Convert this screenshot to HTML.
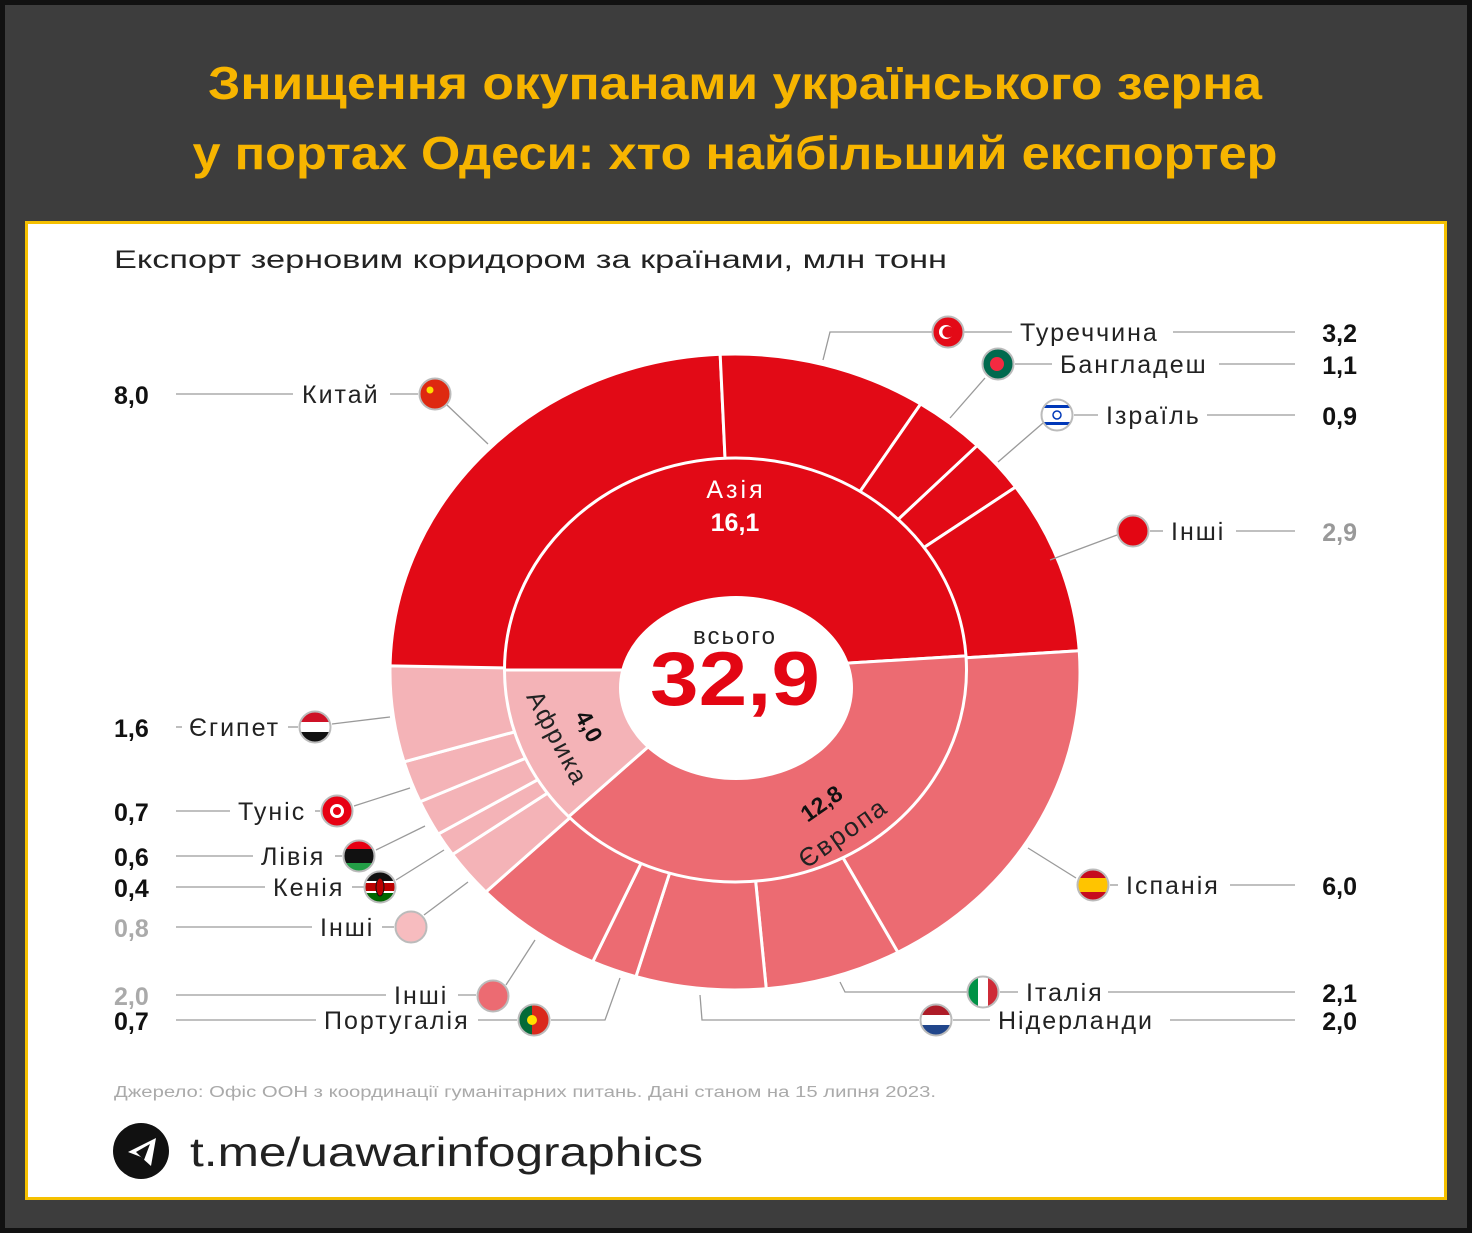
<!DOCTYPE html>
<html><head><meta charset="utf-8"><style>
html,body{margin:0;padding:0;background:#3c3c3c;}
svg{display:block}
text{font-family:"Liberation Sans",sans-serif;}
</style></head><body>
<svg id="s" width="1472" height="1233" viewBox="0 0 1472 1233" xmlns="http://www.w3.org/2000/svg">
<defs><clipPath id="fc"><circle cx="0" cy="0" r="15"/></clipPath></defs>
<rect x="0" y="0" width="1472" height="1233" fill="#111"/>
<rect x="5" y="5" width="1462" height="1223" fill="#3d3d3d"/>
<text x="735" y="99" text-anchor="middle" font-size="46" font-weight="bold" fill="#f7b500" textLength="1054" lengthAdjust="spacingAndGlyphs">Знищення окупанами українського зерна</text>
<text x="735" y="169" text-anchor="middle" font-size="46" font-weight="bold" fill="#f7b500" textLength="1085" lengthAdjust="spacingAndGlyphs">у портах Одеси: хто найбільший експортер</text>
<rect x="26.5" y="222.5" width="1419" height="976" fill="#fff" stroke="#f5c000" stroke-width="3"/>
<text x="114" y="268" font-size="25" fill="#222" textLength="833" lengthAdjust="spacingAndGlyphs">Експорт зерновим коридором за країнами, млн тонн</text>
<g id="donut"></g>
<g id="lines" stroke="#9a9a9a" stroke-width="1.3" fill="none">
<polyline points="823,360 830,332 932,332"/><polyline points="964,332 1012,332"/><polyline points="1173,332 1295,332"/>
<polyline points="950,418 985,378"/><polyline points="1015,364 1052,364"/><polyline points="1219,364 1295,364"/>
<polyline points="998,462 1043,423"/><polyline points="1074,415 1098,415"/><polyline points="1207,415 1295,415"/>
<polyline points="1050,560 1117,535"/><polyline points="1150,531 1163,531"/><polyline points="1236,531 1295,531"/>
<polyline points="176,394 293,394"/><polyline points="390,394 418,394"/><polyline points="447,405 488,444"/>
<polyline points="176,727 182,727"/><polyline points="288,727 298,727"/><polyline points="332,724 390,717"/>
<polyline points="176,811 230,811"/><polyline points="315,811 320,811"/><polyline points="354,806 410,788"/>
<polyline points="176,856 253,856"/><polyline points="335,856 342,856"/><polyline points="376,850 425,826"/>
<polyline points="176,887 265,887"/><polyline points="352,887 364,887"/><polyline points="396,880 444,850"/>
<polyline points="176,927 312,927"/><polyline points="382,927 394,927"/><polyline points="424,915 468,882"/>
<polyline points="176,995 386,995"/><polyline points="458,995 476,995"/><polyline points="506,985 535,940"/>
<polyline points="176,1020 316,1020"/><polyline points="478,1020 517,1020"/><polyline points="551,1020 605,1020 620,978"/>
<polyline points="1028,848 1076,878"/><polyline points="1110,885 1118,885"/><polyline points="1230,885 1295,885"/>
<polyline points="840,982 845,992 967,992"/><polyline points="1000,992 1018,992"/><polyline points="1108,992 1295,992"/>
<polyline points="700,995 702,1020 919,1020"/><polyline points="953,1020 990,1020"/><polyline points="1170,1020 1295,1020"/>
</g>
<g id="flags"></g>
<text x="735" y="644" text-anchor="middle" font-size="24" letter-spacing="2" fill="#222">всього</text>
<text x="735" y="705" text-anchor="middle" font-size="76" font-weight="bold" fill="#e30613" textLength="170" lengthAdjust="spacingAndGlyphs">32,9</text>
<text x="736" y="498" text-anchor="middle" font-size="25" letter-spacing="3" fill="#fff">Азія</text>
<text x="735" y="531" text-anchor="middle" font-size="25" font-weight="bold" fill="#fff">16,1</text>
<text transform="translate(550,742) rotate(62)" text-anchor="middle" font-size="25" letter-spacing="2" fill="#222">Африка</text>
<text transform="translate(582,730) rotate(62)" text-anchor="middle" font-size="23" font-weight="bold" fill="#111">4,0</text>
<text transform="translate(826,810) rotate(-35)" text-anchor="middle" font-size="23" font-weight="bold" fill="#111">12,8</text>
<text transform="translate(848,840) rotate(-35)" text-anchor="middle" font-size="26" letter-spacing="2" fill="#222">Європа</text>
<g font-size="25" letter-spacing="2" fill="#222">
<text x="1020" y="341">Туреччина</text>
<text x="1060" y="373">Бангладеш</text>
<text x="1106" y="424">Ізраїль</text>
<text x="1171" y="540">Інші</text>
<text x="302" y="403">Китай</text>
<text x="189" y="736">Єгипет</text>
<text x="238" y="820">Туніс</text>
<text x="261" y="865">Лівія</text>
<text x="273" y="896">Кенія</text>
<text x="320" y="936">Інші</text>
<text x="394" y="1004">Інші</text>
<text x="324" y="1029">Португалія</text>
<text x="1126" y="894">Іспанія</text>
<text x="1026" y="1001">Італія</text>
<text x="998" y="1029">Нідерланди</text>
</g>
<g font-size="25" font-weight="bold" fill="#111">
<text x="1357" y="342" text-anchor="end">3,2</text>
<text x="1357" y="374" text-anchor="end">1,1</text>
<text x="1357" y="425" text-anchor="end">0,9</text>
<text x="1357" y="541" text-anchor="end" fill="#999">2,9</text>
<text x="1357" y="895" text-anchor="end">6,0</text>
<text x="1357" y="1002" text-anchor="end">2,1</text>
<text x="1357" y="1030" text-anchor="end">2,0</text>
<text x="114" y="404">8,0</text>
<text x="114" y="737">1,6</text>
<text x="114" y="821">0,7</text>
<text x="114" y="866">0,6</text>
<text x="114" y="897">0,4</text>
<text x="114" y="937" fill="#aaa">0,8</text>
<text x="114" y="1005" fill="#aaa">2,0</text>
<text x="114" y="1030">0,7</text>
</g>
<text x="114" y="1097" font-size="15.5" fill="#aaa" textLength="822" lengthAdjust="spacingAndGlyphs">Джерело: Офіс ООН з координації гуманітарних питань. Дані станом на 15 липня 2023.</text>
<circle cx="141" cy="1151" r="28" fill="#111"/>
<path d="M128,1152 L156,1138 L151,1166 L141,1157 Z" fill="#fff"/>
<path d="M136,1152 L150,1144 L144,1160 Z" fill="#111"/>
<text x="190" y="1166" font-size="41" fill="#222" textLength="513" lengthAdjust="spacingAndGlyphs">t.me/uawarinfographics</text>
</svg>
<script>
var NS="http://www.w3.org/2000/svg";
function el(t,a,p){var e=document.createElementNS(NS,t);for(var k in a)e.setAttribute(k,a[k]);p.appendChild(e);return e;}
var d=document.getElementById('donut');
function sector(cx,cy,rx,ry,a0,a1,fill,p){
 var r=Math.PI/180,x0=cx+rx*Math.cos(a0*r),y0=cy+ry*Math.sin(a0*r),x1=cx+rx*Math.cos(a1*r),y1=cy+ry*Math.sin(a1*r);
 var large=(a1-a0)>180?1:0;
 el('path',{d:'M'+cx+','+cy+' L'+x0+','+y0+' A'+rx+','+ry+' 0 '+large+' 1 '+x1+','+y1+' Z',fill:fill,stroke:'#fff','stroke-width':3,'stroke-linejoin':'round'},p);
}
var T=32.9,A='#e20a16',E='#ec6b72',F='#f4b3b7';
var outer=[[8.0,A],[3.2,A],[1.1,A],[0.9,A],[2.9,A],[6.0,E],[2.1,E],[2.0,E],[0.7,E],[2.0,E],[0.8,F],[0.4,F],[0.6,F],[0.7,F],[1.6,F]];
var a=180;
outer.forEach(function(o){var b=a+o[0]/T*360;sector(735,672,345,318,a,b,o[1],d);a=b;});
var mid=[[16.1,A],[12.8,E],[4.0,F]];a=180;
mid.forEach(function(o){var b=a+o[0]/T*360;sector(735.5,670,231,212,a,b,o[1],d);a=b;});
el('ellipse',{cx:736,cy:688,rx:117,ry:92,fill:'#fff'},d);
var fl=document.getElementById('flags');
function flag(x,y,kind){
 var g=el('g',{transform:'translate('+x+','+y+')'},fl);
 var c=el('g',{'clip-path':'url(#fc)'},g);
 function R(x,y,w,h,f){el('rect',{x:x,y:y,width:w,height:h,fill:f},c);}
 if(kind=='cn'){R(-15,-15,30,30,'#de2910');el('circle',{cx:-5,cy:-4,r:3.5,fill:'#ffde00'},c);}
 else if(kind=='tr'){R(-15,-15,30,30,'#e30a17');el('circle',{cx:-2,cy:0,r:7,fill:'#fff'},c);el('circle',{cx:0,cy:0,r:5.6,fill:'#e30a17'},c);}
 else if(kind=='bd'){R(-15,-15,30,30,'#006a4e');el('circle',{cx:-1,cy:0,r:7,fill:'#f42a41'},c);}
 else if(kind=='il'){R(-15,-15,30,30,'#fff');R(-15,-10,30,3,'#0038b8');R(-15,7,30,3,'#0038b8');el('circle',{cx:0,cy:0,r:4,fill:'none',stroke:'#0038b8','stroke-width':1.5},c);}
 else if(kind=='eg'){R(-15,-15,30,10,'#ce1126');R(-15,-5,30,10,'#fff');R(-15,5,30,10,'#111');}
 else if(kind=='tn'){R(-15,-15,30,30,'#e70013');el('circle',{cx:0,cy:0,r:7,fill:'#fff'},c);el('circle',{cx:0,cy:0,r:4,fill:'#e70013'},c);}
 else if(kind=='ly'){R(-15,-15,30,8,'#e70013');R(-15,-7,30,14,'#111');R(-15,7,30,8,'#239e46');}
 else if(kind=='ke'){R(-15,-15,30,10,'#111');R(-15,-5,30,10,'#b00');R(-15,5,30,10,'#006600');R(-15,-6,30,2,'#fff');R(-15,4,30,2,'#fff');el('ellipse',{cx:0,cy:0,rx:4,ry:9,fill:'#b00',stroke:'#111'},c);}
 else if(kind=='pt'){R(-15,-15,13,30,'#046a38');R(-2,-15,17,30,'#da291c');el('circle',{cx:-2,cy:0,r:5,fill:'#ffe000'},c);}
 else if(kind=='es'){R(-15,-15,30,30,'#c60b1e');R(-15,-7,30,14,'#ffc400');}
 else if(kind=='it'){R(-15,-15,10,30,'#009246');R(-5,-15,10,30,'#fff');R(5,-15,10,30,'#ce2b37');}
 else if(kind=='nl'){R(-15,-15,30,10,'#ae1c28');R(-15,-5,30,10,'#fff');R(-15,5,30,10,'#21468b');}
 else {R(-15,-15,30,30,kind);}
 el('circle',{cx:0,cy:0,r:15.5,fill:'none',stroke:'#bbb','stroke-width':2},g);
}
flag(948,332,'tr');flag(998,364,'bd');flag(1057,415,'il');flag(1133,531,'#e30613');
flag(435,394,'cn');flag(315,727,'eg');flag(337,811,'tn');flag(359,856,'ly');flag(380,887,'ke');
flag(411,927,'#f7bcbf');flag(493,996,'#ec6b72');flag(534,1020,'pt');
flag(1093,885,'es');flag(983,992,'it');flag(936,1020,'nl');
</script>
</body></html>
